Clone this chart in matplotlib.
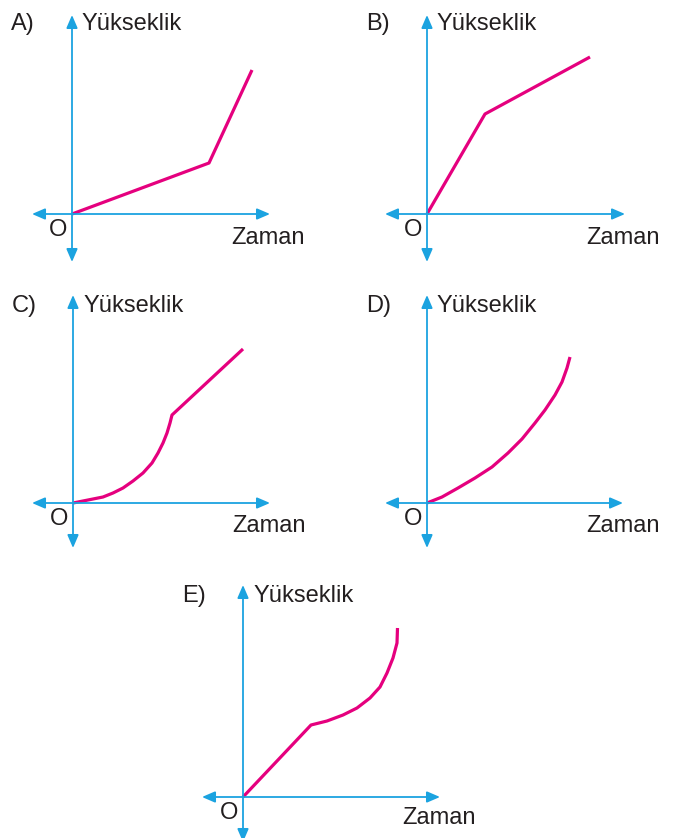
import matplotlib
matplotlib.use("Agg")
import matplotlib.pyplot as plt

# --- values (offsets from origin O, in pixels) ---
a_time = [0, 137, 180]
a_height = [0, 51, 144]

b_time = [0, 58, 163]
b_height = [0, 100, 157]

c_time = [0, 10, 20, 30, 40, 50, 60, 70, 79, 85, 90, 94, 97, 99, 170]
c_height = [0, 2, 4, 6, 10, 15, 22, 30, 40, 50, 60, 70, 80, 88, 154]

d_time = [0, 15, 31, 48, 65, 81, 95, 108, 118, 128, 135, 140, 143]
d_height = [0, 6, 15, 25, 36, 50, 64, 80, 93, 108, 121, 135, 146]

e_time = [0, 68, 84, 100, 114, 127, 137, 144, 150, 154, 154.5]
e_height = [0, 72, 76, 82, 89, 99, 110, 124, 139, 154, 169]

labels = ["A)", "B)", "C)", "D)", "E)"]
y_label = "Yükseklik"
x_label = "Zaman"

AXIS = "#1ba3e0"
CURVE = "#e5007e"
TEXT = "#231f20"

W, H = 678, 838
plt.rcParams["font.family"] = ["Liberation Sans", "DejaVu Sans"]

fig = plt.figure(figsize=(W / 100, H / 100), dpi=100)

# origin pixel, axis extents (left, right, bottom, top), label baselines
panels = [
    ((72, 214), (-40, 198, -48, 199), a_time, a_height, 184, -30),
    ((427, 214), (-42, 198, -48, 199), b_time, b_height, 184, -30),
    ((73, 503), (-41, 197, -45, 208), c_time, c_height, 191, -29),
    ((427, 503), (-42, 196, -45, 208), d_time, d_height, 191, -29),
    ((243, 797), (-41, 197, -45, 212), e_time, e_height, 195, -27),
]

for lab, ((ox, oy), (xl, xr, yb, yt), t, h, top_base, zam_base) in zip(labels, panels):
    ax = fig.add_axes([0, 0, 1, 1])
    ax.set_xlim(-ox, W - ox)
    ax.set_ylim(-(H - oy), oy)
    ax.axis("off")
    ax.patch.set_alpha(0)

    arrow = dict(arrowstyle="<|-|>,head_length=0.65,head_width=0.28", color=AXIS,
                 lw=1.3, shrinkA=0, shrinkB=0, mutation_scale=12)
    ax.annotate("", xy=(xr, 0), xytext=(xl, 0), arrowprops=arrow)
    ax.annotate("", xy=(0, yt), xytext=(0, yb), arrowprops=arrow)

    ax.plot(t, h, color=CURVE, lw=2.3, solid_capstyle="butt", solid_joinstyle="round")

    ax.text(-61, top_base, lab, fontsize=17, color=TEXT, ha="left", va="baseline")
    ax.text(10, top_base, y_label, fontsize=17, color=TEXT, ha="left", va="baseline")
    ax.text(159, zam_base, x_label, fontsize=17, color=TEXT, ha="left", va="baseline")
    ax.text(-14, -16, "O", fontsize=17, color=TEXT, ha="center", va="center")

fig.savefig("out.png", dpi=100, facecolor="white")
